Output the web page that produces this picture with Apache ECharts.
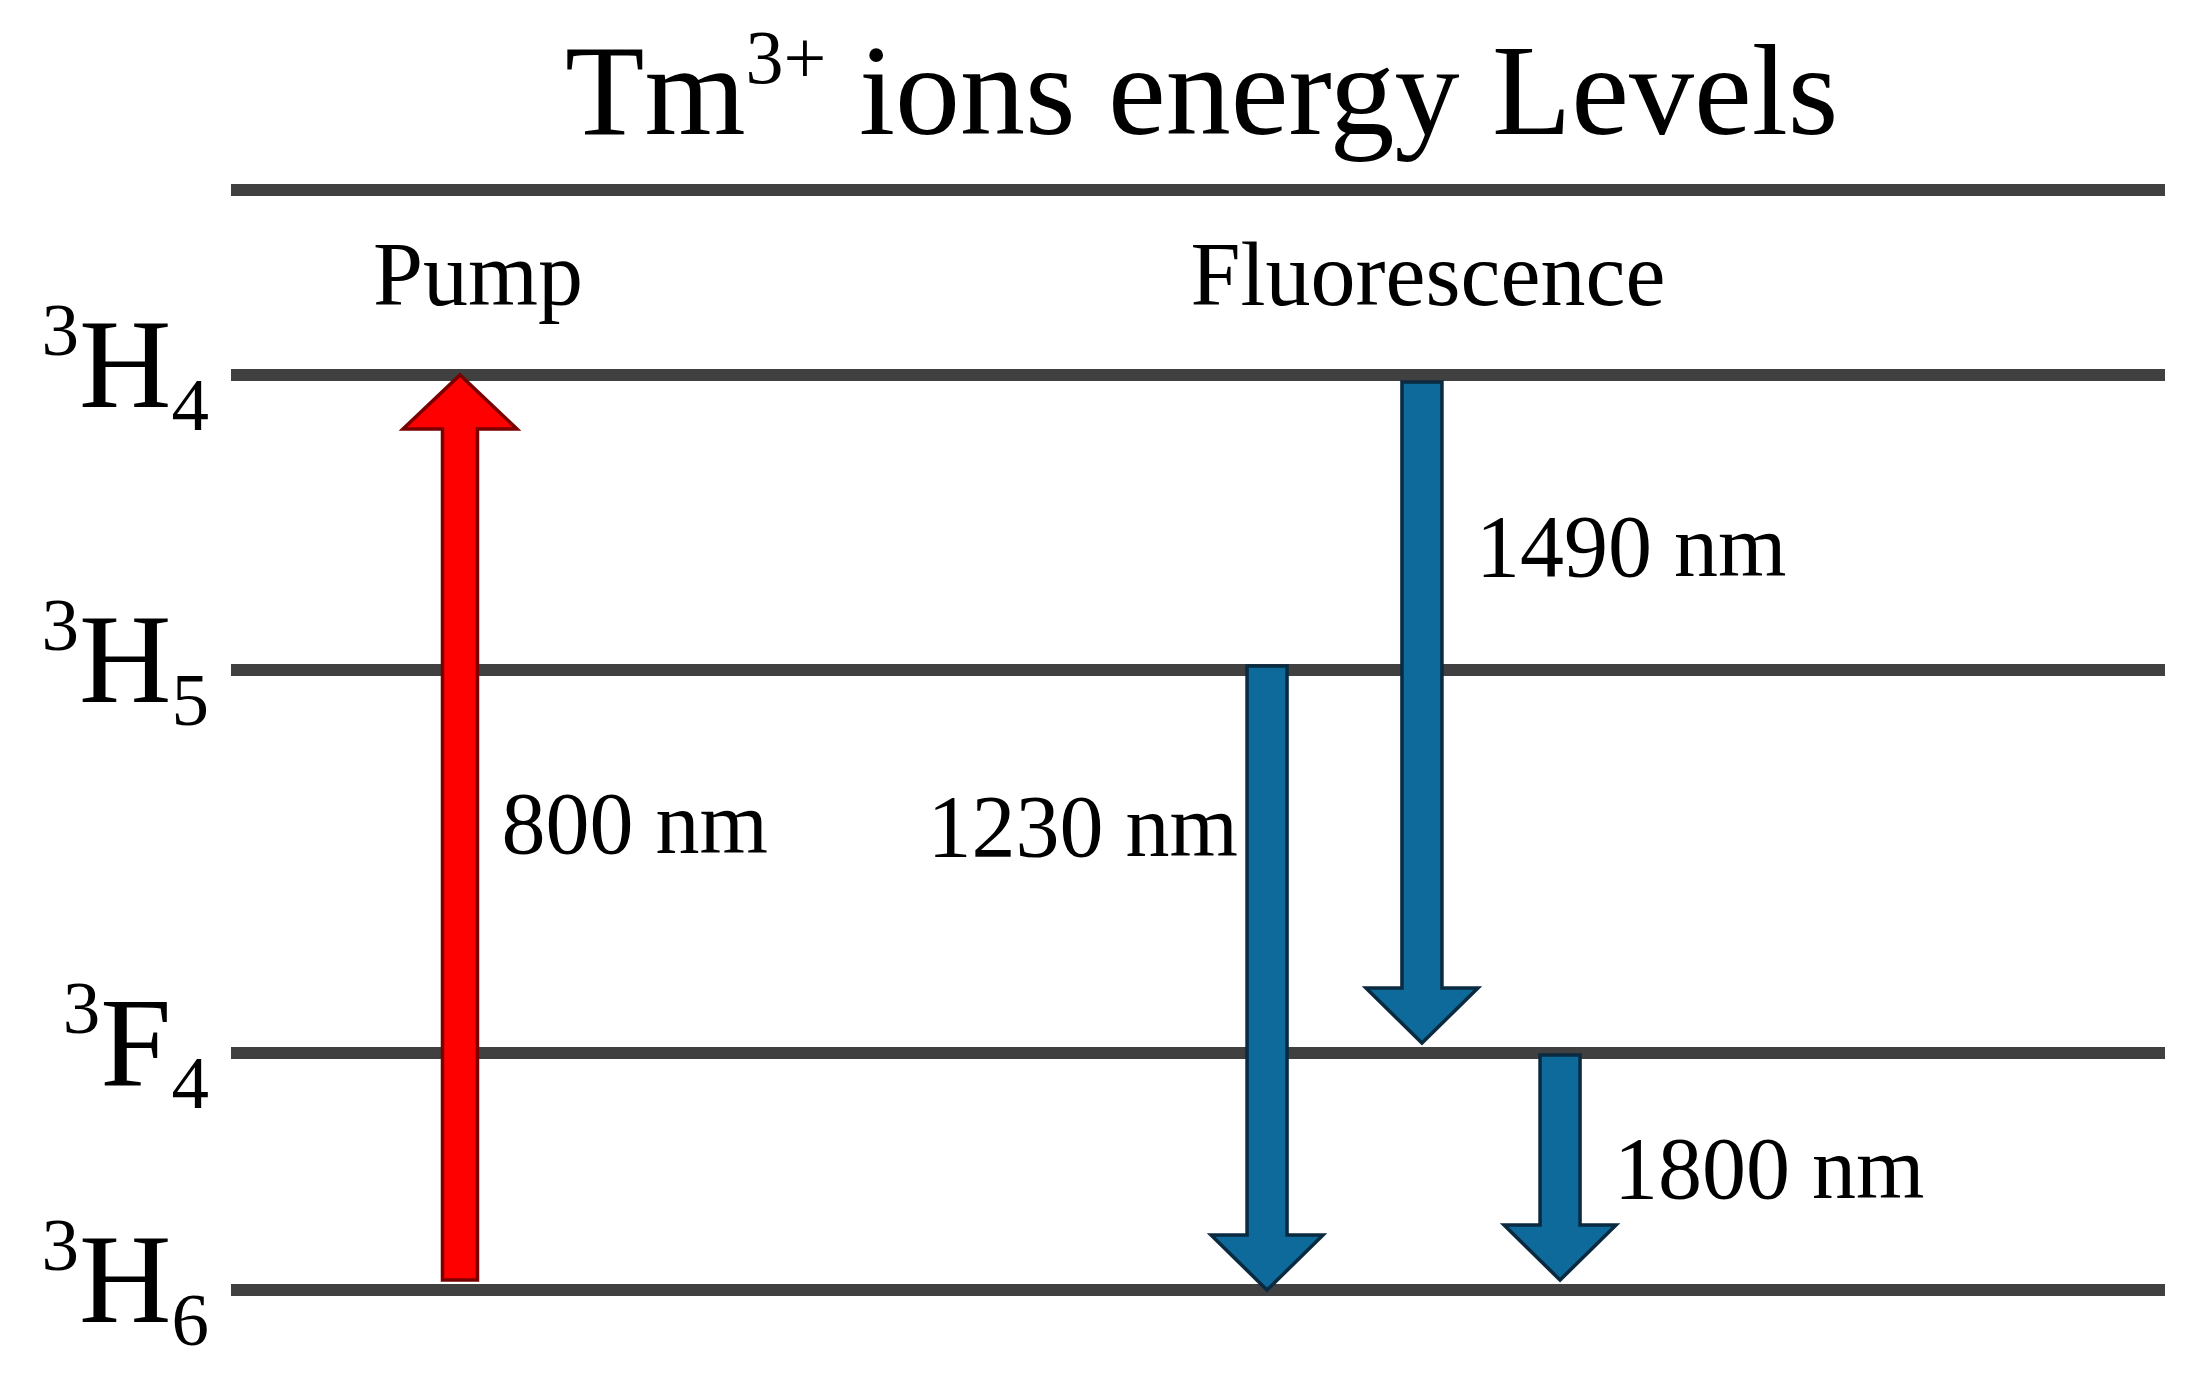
<!DOCTYPE html>
<html style="height:100%;">
<head>
    <meta charset="utf-8">
    <script src="https://cdn.jsdelivr.net/npm/echarts@6/dist/echarts.min.js"></script>
</head>
<body style="height:100%;margin:0;background:#fff;">
    <div id="main" style="width:2209px;height:1400px;"></div>
<script>
    // energy levels (diagram units, ground state = 0)
    var levelNames = ['3H6', '3F4', '3H5', '3H4', ''];
    var levelValues = [0, 2.37, 6.2, 9.15, 11];
    var levelSup = ['3', '3', '3', '3', ''];
    var levelMain = ['H', 'F', 'H', 'H', ''];
    var levelSub = ['6', '4', '5', '4', ''];

    // transitions: arrow x, tail, tip, label y
    var transNames = ['800 nm', '1230 nm', '1490 nm', '1800 nm'];
    var transKind = ['pump', 'fluo', 'fluo', 'fluo'];
    var transX = [11.84, 53.57, 61.58, 68.72];
    var transFrom = [0.10, 6.24, 9.08, 2.35];
    var transTo = [9.15, 0, 2.47, 0.10];
    var transLabelY = [4.60, 4.57, 7.37, 1.15];
    var transLabelSide = ['right', 'left', 'right', 'right'];

    // column headers
    var headNames = ['Pump', 'Fluorescence'];
    var headX = [12.77, 61.89];
    var headY = [10.09, 10.09];

    var serif = '"Liberation Serif", "Times New Roman", serif';

    var levelData = levelValues.map(function (v, i) {
        return [v, levelSup[i], levelMain[i], levelSub[i], levelNames[i]];
    });
    var transData = transX.map(function (x, i) {
        return [x, transFrom[i], transTo[i], transLabelY[i], transNames[i], transKind[i], transLabelSide[i]];
    });
    var headData = headNames.map(function (n, i) {
        return [headX[i], headY[i], n];
    });

    var arrowStyle = {
        pump: {fill: '#ff0000', stroke: '#7a0000', shaft: 35, head: 114, len: 54},
        fluo: {fill: '#0d6a9b', stroke: '#0a2a40', shaft: 40, head: 112, len: 55}
    };

    var myChart = echarts.init(document.getElementById('main'));
    var option = {
        backgroundColor: '#fff',
        animation: false,
        title: {
            text: '{a|Tm}{s|3+}{a| ions energy Levels}',
            left: 565,
            top: 25,
            padding: 0,
            textStyle: {
                fontWeight: 'normal',
                rich: {
                    a: {fontFamily: serif, fontWeight: 'normal', fontSize: 130, lineHeight: 150, color: '#000'},
                    s: {fontFamily: serif, fontWeight: 'normal', fontSize: 76, lineHeight: 62, verticalAlign: 'top', color: '#000'}
                }
            }
        },
        grid: {left: 231, right: 44, top: 190, bottom: 110},
        xAxis: {type: 'value', min: 0, max: 100, show: false},
        yAxis: {type: 'value', min: 0, max: 11, show: false},
        series: [
            {
                name: 'levels',
                type: 'custom',
                data: levelData,
                renderItem: function (params, api) {
                    var v = api.value(0);
                    var p0 = api.coord([0, v]);
                    var p1 = api.coord([100, v]);
                    var children = [{
                        type: 'line',
                        shape: {x1: p0[0], y1: p0[1], x2: p1[0], y2: p1[1]},
                        style: {stroke: '#404040', lineWidth: 12}
                    }];
                    var main = levelMain[params.dataIndex];
                    if (main) {
                        children.push({
                            type: 'text',
                            style: {
                                text: '{s|' + levelSup[params.dataIndex] + '}{m|' + main + '}{b|' + levelSub[params.dataIndex] + '}',
                                x: p0[0] - 22,
                                y: p0[1] - 2,
                                align: 'right',
                                verticalAlign: 'middle',
                                rich: {
                                    s: {fontFamily: serif, fontSize: 75, lineHeight: 64, verticalAlign: 'top', fill: '#000'},
                                    m: {fontFamily: serif, fontSize: 128, lineHeight: 150, fill: '#000'},
                                    b: {fontFamily: serif, fontSize: 75, lineHeight: 82, verticalAlign: 'bottom', fill: '#000'}
                                }
                            }
                        });
                    }
                    return {type: 'group', children: children};
                }
            },
            {
                name: 'transitions',
                type: 'custom',
                data: transData,
                renderItem: function (params, api) {
                    var i = params.dataIndex;
                    var st = arrowStyle[transKind[i]];
                    var tail = api.coord([api.value(0), api.value(1)]);
                    var tip = api.coord([api.value(0), api.value(2)]);
                    var lab = api.coord([api.value(0), api.value(3)]);
                    var x = tail[0];
                    var dir = tip[1] > tail[1] ? 1 : -1;
                    var s = st.shaft / 2, h = st.head / 2;
                    var base = tip[1] - dir * st.len;
                    var side = transLabelSide[i];
                    return {
                        type: 'group',
                        children: [
                            {
                                type: 'polygon',
                                shape: {points: [
                                    [x - s, tail[1]], [x + s, tail[1]], [x + s, base], [x + h, base],
                                    [x, tip[1]], [x - h, base], [x - s, base]
                                ]},
                                style: {fill: st.fill, stroke: st.stroke, lineWidth: 3.5, lineJoin: 'miter'}
                            },
                            {
                                type: 'text',
                                style: {
                                    text: transNames[i],
                                    x: side === 'right' ? x + s + (transKind[i] === 'pump' ? 24 : 34) : x - s - 9,
                                    y: lab[1],
                                    align: side === 'right' ? 'left' : 'right',
                                    verticalAlign: 'middle',
                                    fontFamily: serif,
                                    fontSize: 88,
                                    fill: '#000'
                                }
                            }
                        ]
                    };
                }
            },
            {
                name: 'headers',
                type: 'custom',
                data: headData,
                renderItem: function (params, api) {
                    var p = api.coord([api.value(0), api.value(1)]);
                    return {
                        type: 'text',
                        style: {
                            text: headNames[params.dataIndex],
                            x: p[0],
                            y: p[1],
                            align: 'center',
                            verticalAlign: 'middle',
                            fontFamily: serif,
                            fontSize: 90,
                            fill: '#000'
                        }
                    };
                }
            }
        ]
    };

    myChart.setOption(option);
</script>
</body>
</html>
